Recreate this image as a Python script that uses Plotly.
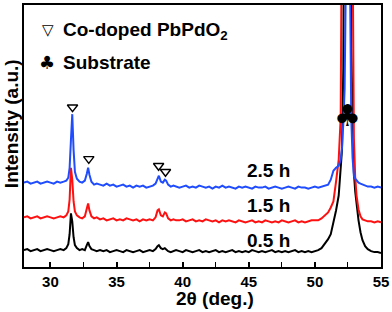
import plotly.graph_objects as go

# ---- data ----
two_theta = [
    28.0, 28.25, 28.5, 28.75, 29.0, 29.25, 29.5, 29.75, 30.0, 30.25, 30.5, 30.75, 31.0,
    31.2, 31.35, 31.45, 31.55, 31.65, 31.75, 31.85, 32.0, 32.2, 32.4, 32.6, 32.75, 32.85, 32.95, 33.1, 33.3, 33.5,
    33.75, 34.0, 34.25, 34.5, 34.75, 35.0, 35.25, 35.5, 35.75, 36.0, 36.25, 36.5, 36.75, 37.0, 37.25, 37.5, 37.75,
    37.95, 38.1, 38.2, 38.35, 38.5, 38.65, 38.75, 38.9, 39.1, 39.3, 39.5,
    39.75, 40.0, 40.25, 40.5, 40.75, 41.0, 41.25, 41.5, 41.75, 42.0, 42.25, 42.5, 42.75, 43.0, 43.25,
    43.5, 43.75, 44.0, 44.25, 44.5, 44.75, 45.0, 45.25, 45.5, 45.75, 46.0, 46.25, 46.5, 46.75, 47.0,
    47.25, 47.5, 47.75, 48.0, 48.25, 48.5, 48.75, 49.0, 49.25, 49.5, 49.75, 50.0, 50.25, 50.5, 50.75,
    51.0, 51.2, 51.4, 51.6, 51.8, 51.95, 52.05, 52.15, 52.25, 52.35, 52.5, 52.65, 52.75, 52.85, 52.95,
    53.05, 53.15, 53.3, 53.45, 53.6, 53.8, 54.0,
    54.25, 54.5, 54.75, 55.0,
]

intensity_2_5h = [
    85, 86, 84, 85, 86, 84, 85, 86, 85, 84, 86, 85, 86,
    87, 90, 100, 128, 154, 118, 96, 89, 86, 85, 87, 94, 100, 93, 86, 83, 84,
    83, 82, 84, 82, 83, 81, 82, 83, 81, 82, 80, 82, 81, 82, 80, 81, 82,
    84, 90, 92, 86, 85, 88, 87, 83, 81, 82, 81,
    80, 81, 82, 80, 81, 80, 82, 81, 80, 81, 79, 81, 80, 82, 80,
    81, 80, 79, 81, 80, 81, 80, 79, 81, 80, 80, 81, 79, 80, 81,
    80, 79, 80, 81, 80, 79, 81, 80, 80, 79, 80, 81, 80, 81, 82,
    83, 88, 97, 100, 102, 108, 120, 145, 180, 300, 1200, 300, 150, 110, 92,
    89, 87, 85, 84, 83, 82, 81,
    81, 80, 81, 80,
]

intensity_1_5h = [
    50, 51, 49, 50, 51, 49, 50, 51, 50, 49, 50, 51, 50,
    52, 56, 68, 100, 88, 66, 56, 52, 50, 49, 51, 59, 64, 57, 51, 49, 50,
    48, 49, 47, 48, 49, 47, 48, 47, 49, 48, 47, 48, 46, 48, 47, 48, 47,
    50, 57, 58, 52, 51, 55, 54, 49, 47, 48, 47,
    47, 48, 46, 47, 48, 46, 47, 46, 48, 47, 46, 47, 45, 47, 46,
    47, 46, 45, 47, 46, 45, 46, 47, 45, 46, 45, 47, 46, 45, 46,
    45, 47, 46, 45, 46, 47, 45, 46, 45, 46, 47, 47, 47, 49, 52,
    55, 60, 66, 86, 108, 150, 280, 700, 1200, 1400, 1400, 1200, 800, 330, 130,
    90, 72, 58, 51, 48, 47, 46,
    46, 45, 46, 45,
]

intensity_0_5h = [
    17, 18, 16, 17, 18, 16, 17, 18, 17, 16, 17, 18, 17,
    19, 23, 33, 54, 46, 30, 22, 19, 17, 18, 17, 22, 25, 21, 18, 17, 16,
    17, 16, 17, 15, 16, 17, 16, 15, 17, 16, 15, 16, 17, 15, 16, 17, 16,
    18, 21, 22, 19, 18, 19, 18, 16, 15, 16, 17,
    16, 15, 17, 16, 15, 16, 17, 15, 16, 15, 16, 17, 15, 16, 15,
    16, 17, 15, 16, 15, 16, 15, 17, 16, 15, 16, 15, 16, 17, 15,
    16, 15, 16, 15, 16, 17, 15, 16, 15, 16, 15, 16, 17, 19, 23,
    28, 33, 44, 57, 72, 95, 118, 200, 500, 1000, 1400, 1000, 220, 140, 95,
    76, 64, 47, 35, 27, 21, 18,
    16, 15, 15, 14,
]

series_names = ["0.5 h", "1.5 h", "2.5 h"]
series_colors = ["#000000", "#ff1010", "#1f4cff"]

# phase markers (Co-doped PbPdO2) and substrate marker
phase_peak_2theta = [31.67, 32.9, 38.18, 38.7]
phase_marker_height = [161, 109, 102, 96]
substrate_2theta = 52.5
substrate_marker_height = 153

# series label positions
label_2theta = 48.3
label_heights = [27, 62, 97]

assert len(two_theta) == len(intensity_2_5h) == len(intensity_1_5h) == len(intensity_0_5h)

FONT = "Liberation Sans, Arial, sans-serif"

fig = go.Figure()
for name, ys, col in zip(series_names, [intensity_0_5h, intensity_1_5h, intensity_2_5h], series_colors):
    fig.add_trace(go.Scatter(x=two_theta, y=ys, mode="lines", name=name,
                             line=dict(color=col, width=2), showlegend=False))

fig.add_trace(go.Scatter(x=phase_peak_2theta, y=phase_marker_height, mode="markers",
                         marker=dict(symbol="triangle-down-open", size=9,
                                     color="black", line=dict(width=1.4, color="black")),
                         showlegend=False))

fig.add_annotation(x=substrate_2theta, y=substrate_marker_height, text="♣", showarrow=False,
                   font=dict(family="DejaVu Sans", size=30, color="black"))

for name, h in zip(series_names, label_heights):
    fig.add_annotation(x=label_2theta, y=h, text=name, showarrow=False, xanchor="right",
                       font=dict(family=FONT, size=19, color="black", weight="bold"))

# legend-like annotations (paper coords)
fig.add_annotation(xref="paper", yref="paper", x=(48 - 24) / 358, y=(267 - 28) / 264,
                   xanchor="center", yanchor="middle",
                   text="▽", showarrow=False, font=dict(family="DejaVu Sans", size=15, color="black"))
fig.add_annotation(xref="paper", yref="paper", x=(61 - 24) / 358, y=(267 - 29) / 264,
                   xanchor="left", yanchor="middle",
                   text="Co-doped PbPdO<sub>2</sub>", showarrow=False,
                   font=dict(family=FONT, size=19, color="black", weight="bold"))
fig.add_annotation(xref="paper", yref="paper", x=(47 - 24) / 358, y=(267 - 61) / 264,
                   xanchor="center", yanchor="middle",
                   text="♣", showarrow=False, font=dict(family="DejaVu Sans", size=18, color="black"))
fig.add_annotation(xref="paper", yref="paper", x=(61 - 24) / 358, y=(267 - 61) / 264,
                   xanchor="left", yanchor="middle",
                   text="Substrate", showarrow=False,
                   font=dict(family=FONT, size=19, color="black", weight="bold"))

# axis titles
fig.add_annotation(xref="paper", yref="paper", x=(216 - 24) / 358, y=(267 - 299) / 264,
                   text="2θ (deg.)", showarrow=False, xanchor="center", yanchor="middle",
                   font=dict(family=FONT, size=19, color="black", weight="bold"))
fig.add_annotation(xref="paper", yref="paper", x=(11 - 24) / 358, y=(267 - 123) / 264,
                   xanchor="center", yanchor="middle",
                   text="Intensity (a.u.)", showarrow=False, textangle=-90,
                   font=dict(family=FONT, size=19, color="black", weight="bold"))

fig.update_xaxes(range=[28, 55], showline=True, mirror=True, linecolor="black", linewidth=1.6,
                 ticks="inside", ticklen=5, tickwidth=1.6, tickcolor="black",
                 tick0=30, dtick=5, showgrid=False, zeroline=False,
                 minor=dict(ticks="inside", ticklen=5, tickwidth=1.2, tickcolor="black", dtick=2.5, tick0=27.5),
                 tickfont=dict(family=FONT, size=15, color="black", weight="bold"))
fig.update_yaxes(range=[0, 264], showline=True, mirror=True, linecolor="black", linewidth=1.6,
                 ticks="", showticklabels=False, showgrid=False, zeroline=False)

fig.update_layout(width=392, height=312, margin=dict(l=24, r=10, t=3, b=45),
                  plot_bgcolor="white", paper_bgcolor="white")

fig.write_html("out.html", config={"displayModeBar": False},
               post_script="document.body.style.margin='0';")
